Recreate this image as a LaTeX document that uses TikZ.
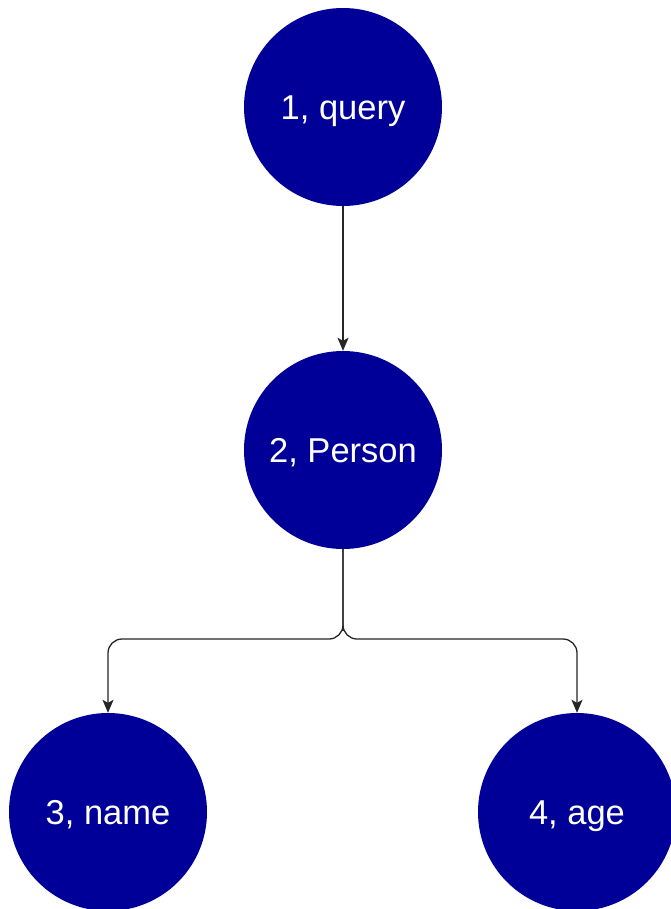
\documentclass[tikz,border=0pt]{standalone}
\usepackage{fontspec}
\setmainfont{Liberation Sans}
\usetikzlibrary{arrows.meta}
\definecolor{nodeblue}{HTML}{000099}
\tikzset{
  bubble/.style={circle, fill=nodeblue, draw=none, minimum size=198pt, inner sep=0pt,
    text=white, font=\fontsize{34.5}{40}\selectfont, text height=24.5pt, text depth=0pt},
  link/.style={draw=black!85, line width=1.3pt, rounded corners=14pt,
    -{Stealth[length=13pt,width=11pt,inset=3pt]}}
}
\begin{document}
\begin{tikzpicture}[x=1pt,y=-1pt]
\useasboundingbox[fill=white] (0,0) rectangle (670,909);
\node[bubble] (n1) at (343,107) {1, query};
\node[bubble] (n2) at (343,450) {2, Person};
\node[bubble] (n3) at (108,812) {3, name};
\node[bubble] (n4) at (577,812) {4, age};
\draw[link] (n1) -- (n2);
\coordinate (split) at (343,639);
\draw[link] (n2.south) |- (split) -| (n3.north);
\draw[link] (n2.south) |- (split) -| (n4.north);
\end{tikzpicture}
\end{document}
